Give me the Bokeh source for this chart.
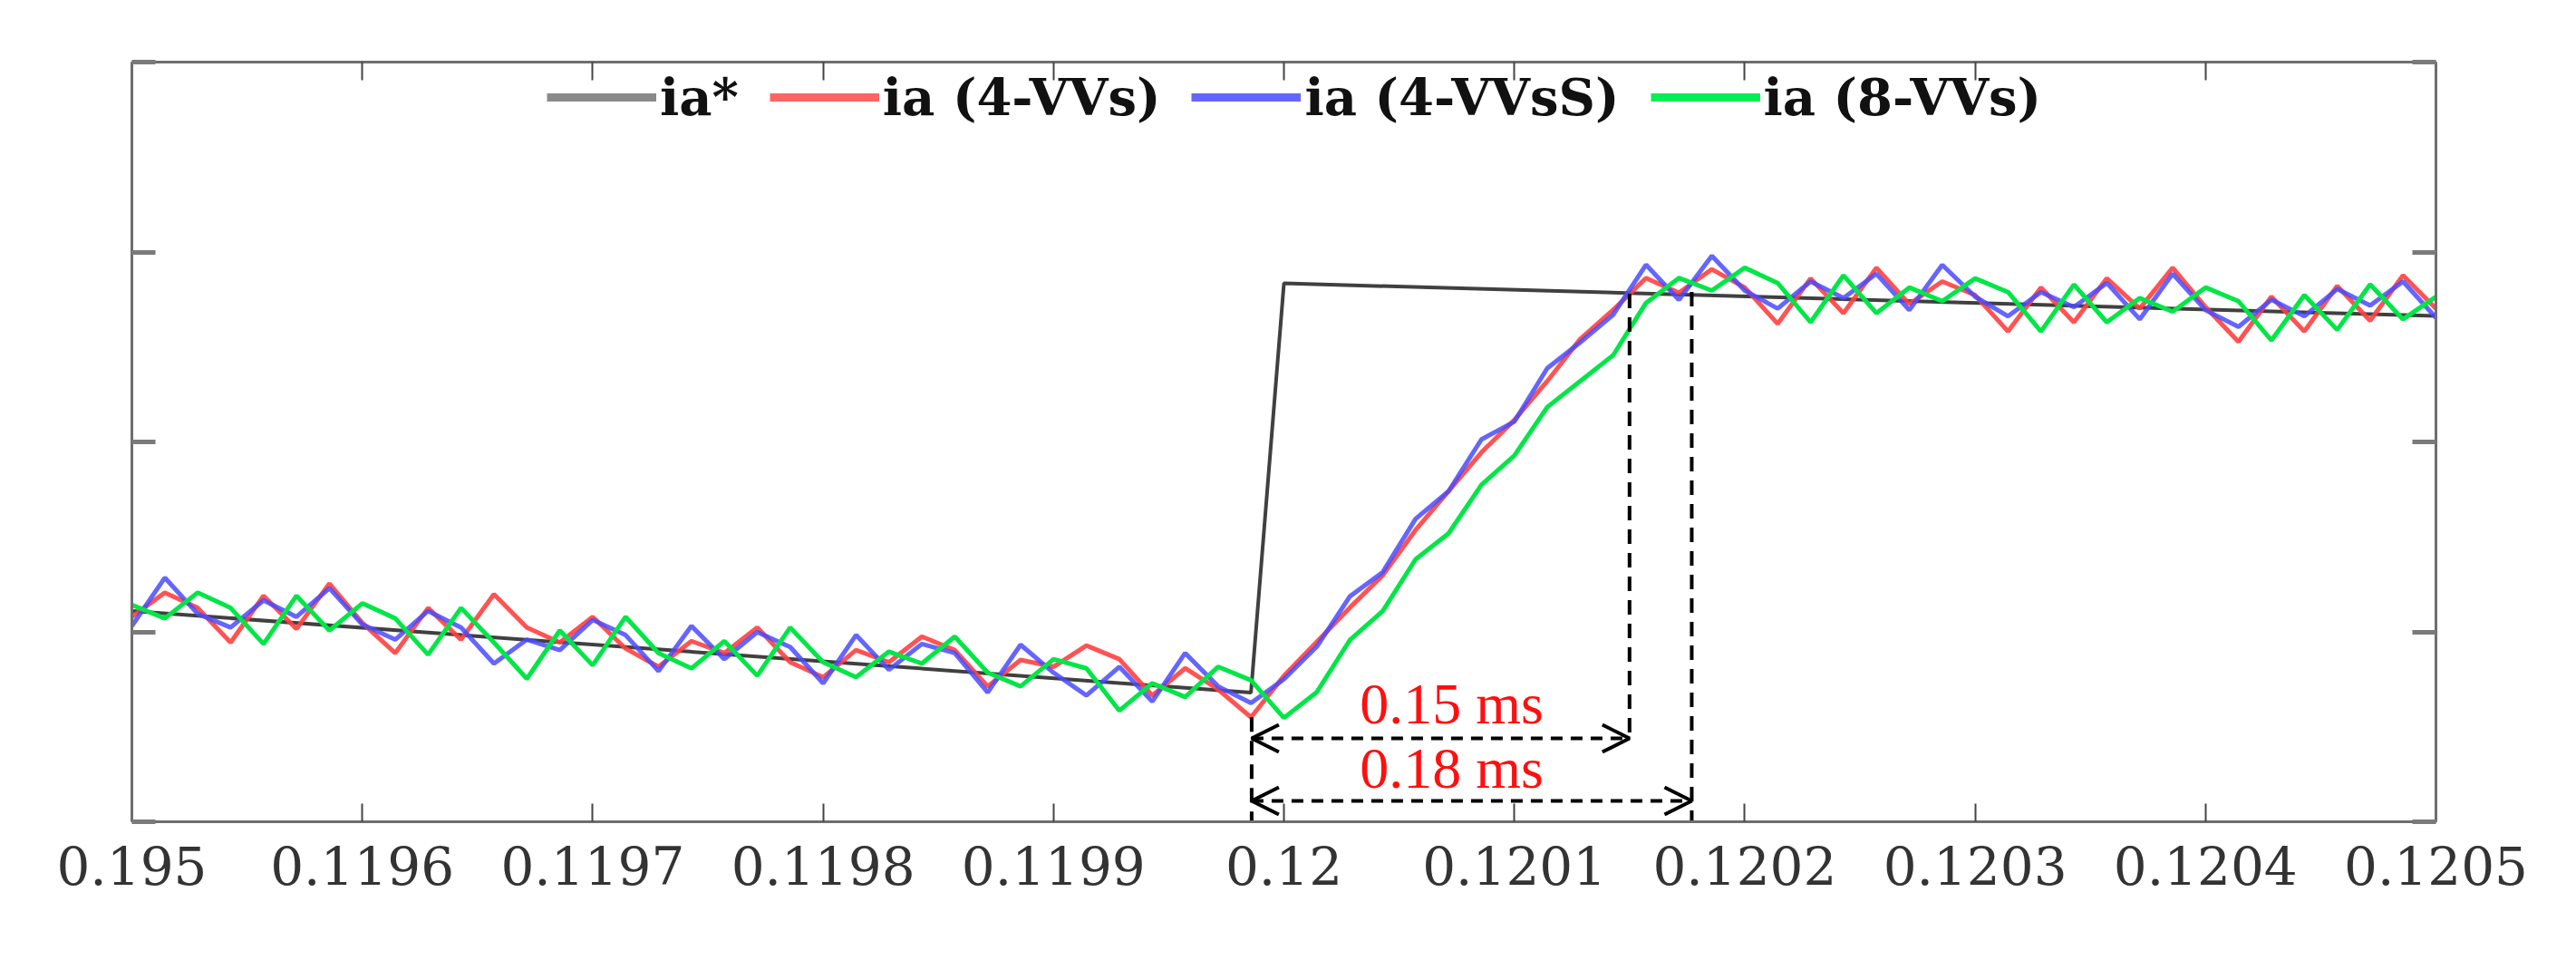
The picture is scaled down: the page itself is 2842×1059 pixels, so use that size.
from bokeh.plotting import figure
from bokeh.models import (Range1d, LinearAxis, FixedTicker, Legend, LegendItem,
                          Arrow, OpenHead, Label)
from bokeh.embed import file_html
from bokeh.resources import INLINE
import numpy as np

# ---------------- data ----------------
# sampling grid of the simulated currents (71 samples between 0.1195 s and 0.1205 s)
t_first = 0.1195
t_last = 0.1205
n_samples = 71
time = list(np.linspace(t_first, t_last, n_samples))

# reference current ia*
ref_time = [0.1195, 0.1199857, 0.1200, 0.1205]
ref_ia = [1.11, 0.68, 2.835, 2.663]

ia_4vvs = [1.079, 1.206, 1.126, 0.944, 1.190, 1.015, 1.254, 1.047, 0.888, 1.126,
           0.959, 1.198, 1.023, 0.944, 1.079, 0.912, 0.816, 0.951, 0.888, 1.023,
           0.840, 0.761, 0.904, 0.840, 0.975, 0.904, 0.713, 0.852, 0.816, 0.928,
           0.856, 0.665, 0.808, 0.697, 0.550, 0.768, 0.948, 1.127, 1.297, 1.536,
           1.740, 1.945, 2.115, 2.320, 2.541, 2.695, 2.863, 2.785, 2.909, 2.813,
           2.622, 2.861, 2.678, 2.917, 2.726, 2.845, 2.773, 2.582, 2.813, 2.630,
           2.861, 2.702, 2.917, 2.710, 2.527, 2.765, 2.582, 2.821, 2.638, 2.877,
           2.702]

ia_4vvss = [1.031, 1.285, 1.095, 1.023, 1.166, 1.079, 1.230, 1.039, 0.959, 1.110,
            1.023, 0.833, 0.959, 0.904, 1.063, 0.983, 0.793, 1.031, 0.856, 0.999,
            0.920, 0.729, 0.983, 0.800, 0.936, 0.888, 0.681, 0.932, 0.785, 0.665,
            0.816, 0.633, 0.888, 0.713, 0.625, 0.751, 0.922, 1.186, 1.314, 1.595,
            1.740, 2.013, 2.107, 2.388, 2.524, 2.669, 2.933, 2.748, 2.980, 2.797,
            2.702, 2.845, 2.758, 2.885, 2.694, 2.932, 2.765, 2.662, 2.789, 2.710,
            2.837, 2.646, 2.885, 2.694, 2.606, 2.749, 2.662, 2.805, 2.718, 2.845,
            2.654]

ia_8vvs = [1.142, 1.071, 1.206, 1.126, 0.936, 1.190, 1.007, 1.150, 1.071, 0.880,
           1.126, 0.944, 0.753, 1.007, 0.824, 1.079, 0.888, 0.808, 0.951, 0.769,
           1.023, 0.840, 0.761, 0.896, 0.833, 0.975, 0.785, 0.713, 0.856, 0.808,
           0.585, 0.729, 0.657, 0.816, 0.745, 0.547, 0.683, 0.956, 1.109, 1.382,
           1.518, 1.774, 1.928, 2.183, 2.320, 2.456, 2.732, 2.863, 2.797, 2.917,
           2.837, 2.630, 2.877, 2.678, 2.813, 2.741, 2.861, 2.789, 2.582, 2.829,
           2.630, 2.758, 2.686, 2.813, 2.741, 2.535, 2.773, 2.590, 2.829, 2.646,
           2.765]

series_labels = ["ia*", "ia (4-VVs)", "ia (4-VVsS)", "ia (8-VVs)"]

x_tick_values = [0.1195, 0.1196, 0.1197, 0.1198, 0.1199, 0.1200,
                 0.1201, 0.1202, 0.1203, 0.1204, 0.1205]
x_tick_labels = ["0.195", "0.1196", "0.1197", "0.1198", "0.1199", "0.12",
                 "0.1201", "0.1202", "0.1203", "0.1204", "0.1205"]
y_tick_values = [0, 1, 2, 3, 4]

# response-time annotation
step_time = 0.119986
settle_times = [0.12015, 0.120177]
settle_labels = ["0.15 ms", "0.18 ms"]
settle_curve_levels = [2.78, 2.79]
arrow_levels = [0.439, 0.110]
step_dip_level = 0.55
label_time = 0.1200728
label_levels = [0.62, 0.28]

# ---------------- figure ----------------
p = figure(width=2826, height=1043, output_backend="svg", toolbar_location=None,
           x_range=Range1d(t_first, t_last), y_range=Range1d(0, 4),
           min_border_left=145, min_border_right=139,
           min_border_top=68, min_border_bottom=137,
           background_fill_color="white", border_fill_color="white")
p.grid.visible = False
p.outline_line_color = None

p.add_layout(LinearAxis(), "above")
p.add_layout(LinearAxis(), "right")

axis_color = "#6e6e6e"
for ax in p.xaxis:
    ax.ticker = FixedTicker(ticks=x_tick_values)
    ax.axis_line_color = axis_color
    ax.axis_line_width = 3
    ax.major_tick_in = 20
    ax.major_tick_out = 0
    ax.major_tick_line_color = "#444444"
    ax.major_tick_line_width = 2
    ax.minor_tick_line_color = None
    ax.major_label_text_font = "DejaVu Serif"
    ax.major_label_text_font_size = "58px"
    ax.major_label_text_color = "#333333"
    ax.major_label_standoff = 26

p.below[0].major_label_overrides = {v: s for v, s in zip(x_tick_values, x_tick_labels)}
p.above[0].major_label_overrides = {v: "" for v in x_tick_values}
p.above[0].major_label_text_font_size = "0px"
p.above[0].major_label_standoff = 0

for ax in p.yaxis:
    ax.ticker = FixedTicker(ticks=y_tick_values)
    ax.axis_line_color = axis_color
    ax.axis_line_width = 3
    ax.major_tick_in = 26
    ax.major_tick_out = 0
    ax.major_tick_line_color = "#7a7a7a"
    ax.major_tick_line_width = 5
    ax.minor_tick_line_color = None
    ax.major_label_overrides = {v: "" for v in y_tick_values}
    ax.major_label_text_font_size = "0px"
    ax.major_label_standoff = 0

# ---------------- curves ----------------
series = [(ref_time, ref_ia), (time, ia_4vvs), (time, ia_4vvss), (time, ia_8vvs)]
line_colors = ["#404040", "#ff4040", "#4a4aff", "#00e646"]
line_widths = [4, 5, 5, 5]
line_alphas = [1.0, 0.9, 0.85, 1.0]
for (xs, ys), c, w, a in zip(series, line_colors, line_widths, line_alphas):
    p.line(xs, ys, line_color=c, line_width=w, line_alpha=a)

# ---------------- annotation ----------------
dash_color = "black"
p.segment(x0=[step_time], y0=[step_dip_level], x1=[step_time], y1=[0],
          line_color=dash_color, line_width=4, line_dash="16 10")
p.segment(x0=settle_times, y0=settle_curve_levels, x1=settle_times,
          y1=[arrow_levels[0], 0],
          line_color=dash_color, line_width=4, line_dash="16 10")

for t_end_, lvl in zip(settle_times, arrow_levels):
    p.add_layout(Arrow(start=OpenHead(size=30, line_width=4, line_color="black"),
                       end=OpenHead(size=30, line_width=4, line_color="black"),
                       x_start=step_time, y_start=lvl, x_end=t_end_, y_end=lvl,
                       line_color="black", line_width=4, line_dash="13 9"))

for txt, lvl in zip(settle_labels, label_levels):
    p.add_layout(Label(x=label_time, y=lvl, text=txt, text_color="#ff0f0f",
                       text_font="Liberation Serif", text_font_size="64px",
                       text_align="center", text_baseline="middle"))

# ---------------- legend (thick legend strokes, hidden duplicate renderers) ----------------
legend_colors = ["#8a8a8a", "#ff6464", "#6464ff", "#00ee55"]
legend_renderers = []
for (xs, ys), c in zip(series, legend_colors):
    r = p.line(xs, ys, line_color=c, line_width=9)
    r.visible = False
    legend_renderers.append(r)

legend = Legend(items=[LegendItem(label=lab, renderers=[r])
                       for lab, r in zip(series_labels, legend_renderers)],
                orientation="horizontal", location=(458, 765),
                background_fill_alpha=0, border_line_color=None,
                inactive_fill_alpha=0,
                glyph_width=121, glyph_height=68, label_height=68,
                label_standoff=4, spacing=34, padding=0, margin=0,
                label_text_font="DejaVu Serif", label_text_font_style="bold",
                label_text_font_size="56px", label_text_color="#111111")
p.add_layout(legend)

open("out.html", "w").write(file_html(p, INLINE))
